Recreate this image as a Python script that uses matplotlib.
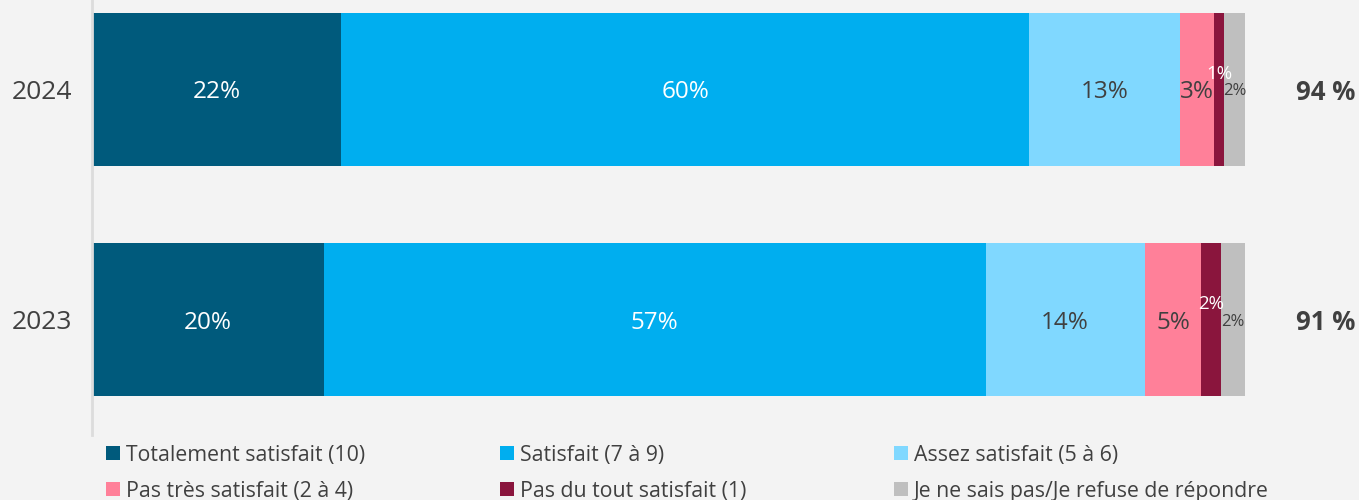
import matplotlib
matplotlib.use("Agg")
import matplotlib.pyplot as plt
from matplotlib.patches import Rectangle

plt.rcParams['font.family'] = ['Open Sans', 'DejaVu Sans']

years = ["2023", "2024"]
series_names = ["Totalement satisfait (10)", "Satisfait (7 à 9)", "Assez satisfait (5 à 6)",
                "Pas très satisfait (2 à 4)", "Pas du tout satisfait (1)",
                "Je ne sais pas/Je refuse de répondre"]
values_2023 = [20.1, 57.4, 13.8, 4.9, 1.7, 2.1]
values_2024 = [21.6, 59.7, 13.1, 2.9, 0.9, 1.8]
totals = ["91 %", "94 %"]

colors = ["#005a7c", "#00aeef", "#80d8ff", "#ff8099", "#8a153d", "#bfbfbf"]
label_colors = ["white", "white", "#404040", "#404040", "white", "#404040"]
label_sizes = [17.5, 17.5, 17.5, 17.5, 13.5, 12]
label_dy = [0, 0, 0, 0, 0.075, 0]

W, H = 1359, 500
fig = plt.figure(figsize=(W / 100, H / 100), dpi=100)
fig.patch.set_facecolor("#f3f3f3")
ax = fig.add_axes([92 / W, 65 / H, (1245 - 92) / W, 435 / H])
ax.set_facecolor("none")

data = [values_2023, values_2024]
ypos = [0, 1]
bar_h = 0.665
for yi, vals in zip(ypos, data):
    left = 0
    for i, v in enumerate(vals):
        ax.barh(yi, v, left=left, height=bar_h, color=colors[i], edgecolor="none")
        ax.text(left + v / 2, yi + label_dy[i], f"{round(v)}%", ha="center",
                va="center_baseline", color=label_colors[i], fontsize=label_sizes[i])
        left += v

for yi, t in zip(ypos, totals):
    ax.text(107, yi, t, ha="center", va="center_baseline", fontsize=18.5,
            fontweight="bold", color="#404040", clip_on=False)

ax.set_xlim(0, 100)
ax.set_ylim(-0.502, 1.389)
ax.set_xticks([])
ax.set_yticks(ypos)
ax.set_yticklabels(years, fontsize=19, color="#404040", va="center_baseline")
ax.tick_params(axis="y", length=0, pad=14)
for s in ["top", "right", "bottom"]:
    ax.spines[s].set_visible(False)
ax.spines["left"].set_color("#dcdcdc")
ax.spines["left"].set_linewidth(2)

# legend: 3 columns x 2 rows
col_x = [106, 500, 894]
row_y = [453, 489]
sq = 14
for i, (name, c) in enumerate(zip(series_names, colors)):
    cx = col_x[i % 3]
    cy = row_y[i // 3]
    fig.add_artist(Rectangle((cx / W, (H - cy - sq / 2) / H), sq / W, sq / H,
                             transform=fig.transFigure, facecolor=c, edgecolor="none"))
    fig.text((cx + sq + 6) / W, (H - cy) / H, name, ha="left", va="center_baseline",
             fontsize=15.3, color="#404040")

fig.savefig("out.png", dpi=100, facecolor=fig.get_facecolor())
